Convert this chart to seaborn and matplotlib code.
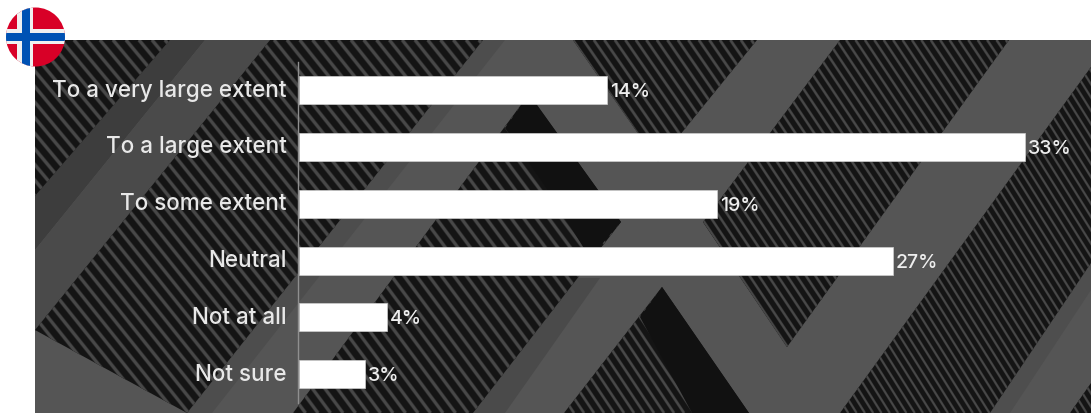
import numpy as np
import pandas as pd
import matplotlib
matplotlib.use("Agg")
import matplotlib.pyplot as plt
from matplotlib.patches import Polygon, Circle, Rectangle
from matplotlib.transforms import ScaledTranslation
import seaborn as sns

categories = ["To a very large extent", "To a large extent", "To some extent",
              "Neutral", "Not at all", "Not sure"]
values = [14, 33, 19, 27, 4, 3]

W, H = 1091, 413
sns.set_theme(style="white")
plt.rcParams["font.family"] = ["Inter", "DejaVu Sans"]

fig = plt.figure(figsize=(W / 100, H / 100), dpi=100, facecolor="white")

# ---------- decorative photo-like backdrop, in pixel coordinates ----------
bg = fig.add_axes([0, 0, 1, 1], zorder=0)
bg.set_xlim(0, W)
bg.set_ylim(H, 0)
bg.axis("off")
panel = Rectangle((35, 40), W - 35, H - 40, fc="#555555", ec="none", zorder=1)
bg.add_patch(panel)


def soft(poly, color):
    p = Polygon(poly, closed=True, fc=color, ec="none", zorder=2)
    bg.add_patch(p)
    p.set_clip_path(panel)


def striped(poly, slope, period, dark="#141414", light="#484848"):
    p = Polygon(poly, closed=True, fc=dark, ec="none", zorder=3)
    bg.add_patch(p)
    pts = np.array(poly, float)
    ymin, ymax = pts[:, 1].min(), pts[:, 1].max()
    xs = np.arange(pts[:, 0].min() - (ymax - ymin) / slope - period,
                   pts[:, 0].max() + period, period)
    lw = period * 0.155
    for x0 in xs:
        xx = [x0, x0 + (ymax - ymin) / slope]
        yy = [ymin, ymax]
        for width, col in ((lw * 1.5, "#2c2c2c"), (lw, light)):
            ln, = bg.plot(xx, yy, color=col, lw=width, zorder=4,
                          solid_capstyle="butt")
            ln.set_clip_path(p)


def solid(poly, color="#111111"):
    p = Polygon(poly, closed=True, fc=color, ec="none", zorder=5)
    bg.add_patch(p)
    p.set_clip_path(panel)


# shaded faces beside the stripes
soft([(170, 40), (205, 40), (35, 250), (35, 196)], "#3d3d3d")
soft([(205, 40), (270, 40), (120, 226), (35, 330), (35, 250)], "#4a4a4a")
soft([(483, 40), (505, 40), (212, 413), (187, 413)], "#4d4d4d")
soft([(570, 278), (600, 278), (505, 413), (473, 413)], "#4a4a4a")
soft([(1091, 263), (1091, 290), (1010, 413), (990, 413)], "#4e4e4e")

# striped bands
striped([(35, 40), (170, 40), (35, 196)], 1.2, 13)
striped([(270, 40), (483, 40), (187, 413), (35, 330)], 1.25, 12.8)
striped([(529, 94), (621, 222), (473, 413), (293, 413)], 1.35, 12.5)
solid([(529, 94), (621, 222), (590, 258), (547, 189), (505, 128)])
striped([(573, 40), (757, 40), (658, 162)], 1.45, 10.5)
striped([(840, 40), (1009, 40), (787, 347), (703, 222)], 1.5, 9.4)
striped([(662, 287), (749, 413), (564, 413)], 1.5, 10)
solid([(662, 287), (749, 413), (692, 413), (640, 317)])
striped([(1091, 67), (1091, 263), (990, 413), (840, 413)], 1.6, 8.3)
striped([(1091, 383), (1091, 413), (1070, 413)], 1.6, 8.3)

# flag badge
disc = Circle((35.5, 37), 29.5, fc="#D80027", ec="none", zorder=10)
bg.add_patch(disc)
for rect, col in (((17, 0, 16, 80), "#F0F0F0"), ((0, 29, 70, 15), "#F0F0F0"),
                  ((22, 0, 8, 80), "#0052B4"), ((0, 32.5, 70, 8.5), "#0052B4")):
    r = Rectangle(rect[:2], rect[2], rect[3], fc=col, ec="none", zorder=11)
    bg.add_patch(r)
    r.set_clip_path(disc)

# ---------- chart ----------
ax = fig.add_axes([35 / W, 0, (W - 35) / W, (H - 40) / H], zorder=2)
ax.patch.set_alpha(0)
df = pd.DataFrame({"answer": categories, "share": values})
sns.barplot(data=df, y="answer", x="share", color="white", saturation=1,
            width=0.49, orient="h", ax=ax, edgecolor="#cfcfcf", linewidth=0.5)

ax.set_xlim(-12, 36)
ax.set_ylim(5.683, -0.884)
ax.set_xlabel("")
ax.set_ylabel("")
ax.xaxis.set_visible(False)
for side in ("top", "right", "bottom"):
    ax.spines[side].set_visible(False)
ax.spines["left"].set_position(("data", -0.05))
ax.spines["left"].set_bounds(-0.5, 5.5)
ax.spines["left"].set_color("#8f8f8f")
ax.spines["left"].set_linewidth(1)
ax.tick_params(axis="y", length=0, pad=8, labelsize=16.2,
               labelcolor="#e8e8e8")
lift = ScaledTranslation(0, 1.5 / 72, fig.dpi_scale_trans)
for lab in ax.get_yticklabels():
    lab.set_fontweight("medium")
    lab.set_transform(lab.get_transform() + lift)

texts = ax.bar_label(ax.containers[0], fmt="%d%%", padding=3, color="#eeeeee",
                     fontsize=14, fontweight="medium")
for t in texts:
    t.xyann = (2, -1.5)

fig.savefig("out.png", dpi=100, facecolor="white")
